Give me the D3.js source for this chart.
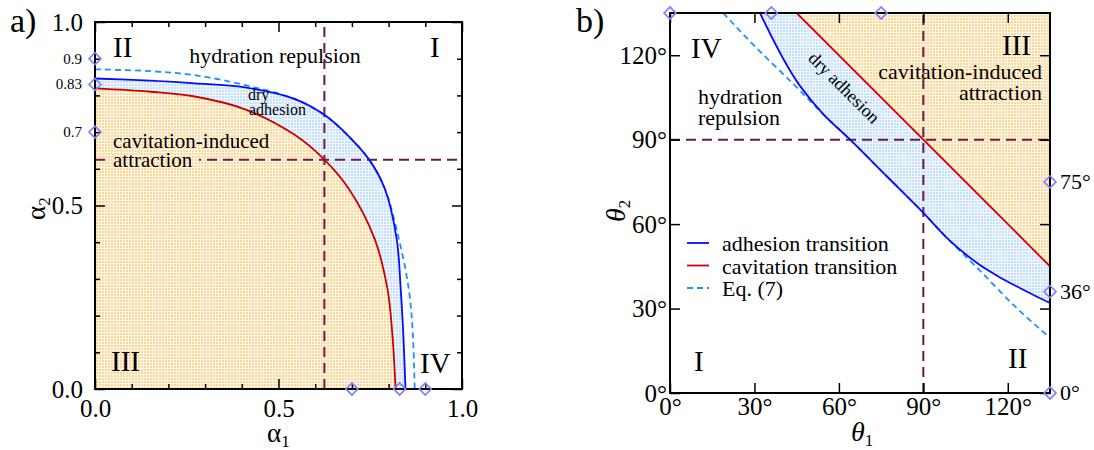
<!DOCTYPE html>
<html>
<head>
<meta charset="utf-8">
<script src="https://cdn.jsdelivr.net/npm/d3@7"></script>
<style>
body { margin: 0; background: #fff; }
text { font-family: "Liberation Serif", "Times New Roman", serif; fill: #000; }
</style>
</head>
<body>
<svg id="chart" width="1094" height="450"></svg>
<script>
// panel a) alpha1 vs alpha2
var alphaAdhesion = [[0,0.846],[0.15,0.840],[0.272,0.833],[0.409,0.822],[0.545,0.79],[0.625,0.747],[0.69,0.69],[0.747,0.625],[0.79,0.545],[0.822,0.409],[0.833,0.272],[0.840,0.15],[0.846,0]];
var alphaCavitation = [[0,0.819],[0.152,0.81],[0.272,0.797],[0.409,0.762],[0.545,0.692],[0.625,0.625],[0.692,0.545],[0.762,0.409],[0.797,0.272],[0.81,0.152],[0.819,0]];
var alphaEq7 = [[0,0.871],[0.15,0.866],[0.272,0.855],[0.409,0.828],[0.545,0.79],[0.625,0.747],[0.69,0.69],[0.747,0.625],[0.79,0.545],[0.828,0.409],[0.855,0.272],[0.866,0.15],[0.871,0]];
var alphaCross = 0.625;
var alphaMarks = [0.9, 0.83, 0.7];
var alphaMarkLabels = ["0.9", "0.83", "0.7"];
var alphaMajor = [0, 0.5, 1];
var alphaMajorLabels = ["0.0", "0.5", "1.0"];
var alphaMinor = [0.1, 0.2, 0.3, 0.4, 0.6, 0.7, 0.8, 0.9];

// panel b) theta1 vs theta2 (degrees)
var thetaAdhesion = [[32,135],[34.3,130.2],[37.9,123.1],[41.5,116.5],[46.1,109.2],[54.5,99.0],[64,90],[77,77],[90,64],[99.0,54.5],[109.2,46.1],[116.5,41.5],[123.1,37.9],[130.2,34.3],[135,32]];
var thetaCavitation = [[45,135],[135,45]];
var thetaEq7 = [[18.9,135],[30.4,122.9],[43.8,109.8],[54.5,99.0],[64,90],[77,77],[90,64],[99.0,54.5],[109.8,43.8],[122.9,30.4],[135,19.6]];
var thetaCross = 90;
var thetaMarks = [0, 36, 75];
var thetaMarkLabels = ["0°", "36°", "75°"];
var thetaMajor = [0, 30, 60, 90, 120];

var legendItems = [
    {label: "adhesion transition", color: "#0a0aff", dash: null},
    {label: "cavitation transition", color: "#cc0000", dash: null},
    {label: "Eq. (7)", color: "#1e90ff", dash: "6,4"}
];

var purple = "#6b0f47";
var dashPurple = "#6e1a52";
var markColor = "#7f7fff";

var svg = d3.select("#chart");
var defs = svg.append("defs");

function dotPattern(id, bg, dot) {
    var p = defs.append("pattern").attr("id", id)
        .attr("patternUnits", "userSpaceOnUse").attr("width", 3).attr("height", 3);
    p.append("rect").attr("width", 3).attr("height", 3).attr("fill", bg);
    p.append("rect").attr("width", 2).attr("height", 2).attr("fill", dot);
}
dotPattern("orangeDots", "#fff7ea", "#ffd796");
dotPattern("blueDots", "#f2f8ff", "#c4e0fd");

var xa = d3.scaleLinear().domain([0, 1]).range([95, 462]);
var ya = d3.scaleLinear().domain([0, 1]).range([389, 22]);
var xb = d3.scaleLinear().domain([0, 135]).range([670, 1050]);
var yb = d3.scaleLinear().domain([0, 135]).range([393, 13]);

function drawPanel(x, y, id) {
    defs.append("clipPath").attr("id", id)
        .append("rect")
        .attr("x", x.range()[0]).attr("y", y.range()[1])
        .attr("width", x.range()[1] - x.range()[0])
        .attr("height", y.range()[0] - y.range()[1]);
    return svg.append("g").attr("clip-path", "url(#" + id + ")");
}

function curveLine(x, y) {
    return d3.line().x(function(d) { return x(d[0]); }).y(function(d) { return y(d[1]); })
        .curve(d3.curveCatmullRom.alpha(0.5));
}

function frameAndTicks(x, y, major, minor, labels, padX, padY, fontSize) {
    var x0 = x.range()[0], x1 = x.range()[1], y0 = y.range()[0], y1 = y.range()[1];
    var fmt = function(d, i) { return labels[i]; };
    var axes = [
        {g: d3.axisBottom(x), t: "translate(0," + y0 + ")", lab: true, pad: padX},
        {g: d3.axisLeft(y), t: "translate(" + x0 + ",0)", lab: true, pad: padY},
        {g: d3.axisTop(x), t: "translate(0," + y1 + ")", lab: false},
        {g: d3.axisRight(y), t: "translate(" + x1 + ",0)", lab: false}
    ];
    axes.forEach(function(a) {
        var ax = svg.append("g").attr("transform", a.t)
            .call(a.g.tickValues(major).tickSizeInner(-10).tickSizeOuter(0)
                .tickPadding(a.lab ? a.pad : 0)
                .tickFormat(a.lab ? fmt : function() { return ""; }));
        ax.select(".domain").remove();
        ax.selectAll("line").attr("stroke", "#000").attr("stroke-width", 1.5);
        ax.selectAll("text").style("font-family", "'Liberation Serif', serif")
            .style("font-size", fontSize + "px").attr("fill", "#000");
        if (minor.length) {
            var m = svg.append("g").attr("transform", a.t)
                .call(a.g.tickValues(minor).tickSizeInner(-5).tickSizeOuter(0).tickFormat(function() { return ""; }));
            m.select(".domain").remove();
            m.selectAll("line").attr("stroke", "#000").attr("stroke-width", 1.5);
        }
    });
    svg.append("rect").attr("x", x0).attr("y", y1)
        .attr("width", x1 - x0).attr("height", y0 - y1)
        .attr("fill", "none").attr("stroke", "#000").attr("stroke-width", 2);
}

function crossLines(g, x, y, v) {
    g.append("line").attr("x1", x(v)).attr("x2", x(v)).attr("y1", y.range()[0]).attr("y2", y.range()[1])
        .attr("stroke", dashPurple).attr("stroke-width", 2).attr("stroke-dasharray", "10,6");
    g.append("line").attr("y1", y(v)).attr("y2", y(v)).attr("x1", x.range()[0]).attr("x2", x.range()[1])
        .attr("stroke", dashPurple).attr("stroke-width", 2).attr("stroke-dasharray", "10,6");
}

function diamonds(pts) {
    svg.append("g").selectAll("path").data(pts).enter().append("path")
        .attr("d", d3.symbol().type(d3.symbolSquare).size(72))
        .attr("transform", function(d) { return "translate(" + d[0] + "," + d[1] + ") rotate(45)"; })
        .attr("fill", "none").attr("stroke", markColor).attr("stroke-width", 1.6);
}

function addText(x, y, str, size, opts) {
    opts = opts || {};
    return svg.append("text").attr("x", x).attr("y", y)
        .attr("text-anchor", opts.anchor || "start")
        .style("font-size", size + "px")
        .attr("fill", opts.color || "#000")
        .attr("transform", opts.transform || null)
        .text(str);
}

// ---------- panel a ----------
var ga = drawPanel(xa, ya, "clipA");
var la = curveLine(xa, ya);
ga.append("path").attr("d", la(alphaCavitation) + "L" + xa(0) + "," + ya(0) + "Z").attr("fill", "url(#orangeDots)");
ga.append("path").attr("d", la(alphaAdhesion) + "L" + la(alphaCavitation.slice().reverse()).slice(1) + "Z")
    .attr("fill", "url(#blueDots)");
crossLines(ga, xa, ya, alphaCross);
ga.append("path").attr("d", la(alphaEq7)).attr("fill", "none").attr("stroke", "#1e90ff")
    .attr("stroke-width", 1.8).attr("stroke-dasharray", "6,4");
ga.append("path").attr("d", la(alphaCavitation)).attr("fill", "none").attr("stroke", "#cc0000").attr("stroke-width", 1.8);
ga.append("path").attr("d", la(alphaAdhesion)).attr("fill", "none").attr("stroke", "#0a0aff").attr("stroke-width", 1.8);
// the label box hides the dashed line behind "attraction", as in the original
ga.append("rect").attr("x", 106).attr("y", 151).attr("width", 93).attr("height", 18).attr("fill", "url(#orangeDots)");
frameAndTicks(xa, ya, alphaMajor, alphaMinor, alphaMajorLabels, 10, 12, 25);
diamonds(alphaMarks.map(function(v) { return [xa(0), ya(v)]; })
    .concat([0.7, 0.83, 0.9].map(function(v) { return [xa(v), ya(0)]; })));
alphaMarks.forEach(function(v, i) {
    addText(82, ya(v) + 5, alphaMarkLabels[i], 15, {anchor: "end"});
});

addText(275, 63, "hydration repulsion", 22, {anchor: "middle"});
addText(113, 148, "cavitation-induced", 21);
addText(113, 167, "attraction", 21);
addText(248, 100, "dry", 16);
addText(249, 115, "adhesion", 16);
addText(113, 57, "II", 29, {color: purple});
addText(430, 57, "I", 29, {color: purple});
addText(111, 371, "III", 29, {color: purple});
addText(420, 373, "IV", 29, {color: purple});
addText(10, 32, "a)", 34);

var a1 = svg.append("text").attr("x", 267).attr("y", 442).style("font-size", "27px");
a1.append("tspan").text("α");
a1.append("tspan").attr("dy", 5).style("font-size", "17px").text("1");
var a2 = svg.append("text").attr("transform", "translate(45,220) rotate(-90)").style("font-size", "27px");
a2.append("tspan").text("α");
a2.append("tspan").attr("dy", 5).style("font-size", "17px").text("2");

// ---------- panel b ----------
var gb = drawPanel(xb, yb, "clipB");
var lb = curveLine(xb, yb);
var straight = d3.line().x(function(d) { return xb(d[0]); }).y(function(d) { return yb(d[1]); });
gb.append("path").attr("d", straight(thetaCavitation.concat([[135, 135]])) + "Z").attr("fill", "url(#orangeDots)");
gb.append("path").attr("d", lb(thetaAdhesion) + "L" + straight(thetaCavitation.slice().reverse()).slice(1) + "Z")
    .attr("fill", "url(#blueDots)");
crossLines(gb, xb, yb, thetaCross);
gb.append("path").attr("d", lb(thetaEq7)).attr("fill", "none").attr("stroke", "#1e90ff")
    .attr("stroke-width", 1.8).attr("stroke-dasharray", "6,4");
gb.append("path").attr("d", straight(thetaCavitation)).attr("fill", "none").attr("stroke", "#cc0000").attr("stroke-width", 1.8);
gb.append("path").attr("d", lb(thetaAdhesion)).attr("fill", "none").attr("stroke", "#0a0aff").attr("stroke-width", 1.8);
frameAndTicks(xb, yb, thetaMajor, [], thetaMajor.map(function(d) { return d + "°"; }), 4, 3, 25);
diamonds(thetaMarks.map(function(v) { return [xb(v), yb(135)]; })
    .concat(thetaMarks.map(function(v) { return [xb(135), yb(v)]; })));
thetaMarks.forEach(function(v, i) {
    addText(1060, yb(v) + 7, thetaMarkLabels[i], 22);
});

addText(698, 104, "hydration", 22);
addText(698, 125, "repulsion", 22);
addText(1042, 79, "cavitation-induced", 22, {anchor: "end"});
addText(1042, 100, "attraction", 22, {anchor: "end"});
addText(0, 0, "dry adhesion", 18, {anchor: "middle", transform: "translate(840,92) rotate(45)"});
addText(691, 58, "IV", 29, {color: purple});
addText(1031, 55, "III", 29, {color: purple, anchor: "end"});
addText(694, 371, "I", 29, {color: purple});
addText(1008, 368, "II", 29, {color: purple});
addText(576, 32, "b)", 34);

var t1 = svg.append("text").attr("x", 851).attr("y", 441).style("font-size", "28px");
t1.append("tspan").style("font-style", "italic").text("θ");
t1.append("tspan").attr("dy", 5).style("font-size", "17px").text("1");
var t2 = svg.append("text").attr("transform", "translate(625,222) rotate(-90)").style("font-size", "28px");
t2.append("tspan").style("font-style", "italic").text("θ");
t2.append("tspan").attr("dy", 5).style("font-size", "17px").text("2");

// legend
var leg = svg.append("g").selectAll("g").data(legendItems).enter().append("g")
    .attr("transform", function(d, i) { return "translate(687," + (243 + i * 22.5) + ")"; });
leg.append("line").attr("x1", 0).attr("x2", 22).attr("y1", 0).attr("y2", 0)
    .attr("stroke", function(d) { return d.color; }).attr("stroke-width", 1.8)
    .attr("stroke-dasharray", function(d) { return d.dash; });
leg.append("text").attr("x", 35).attr("y", 8).style("font-size", "22px").text(function(d) { return d.label; });
</script>
</body>
</html>
